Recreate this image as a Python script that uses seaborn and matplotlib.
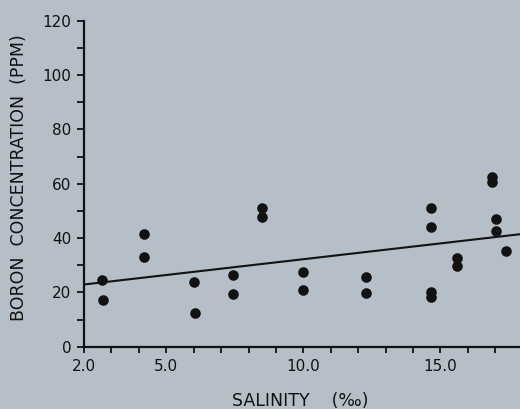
import matplotlib
matplotlib.use("Agg")
import matplotlib.pyplot as plt
from matplotlib.ticker import MultipleLocator, FixedLocator
import seaborn as sns
import pandas as pd

# ---- data ----
salinity = [2.65, 2.68, 4.19, 4.19, 6.01, 6.05, 7.45, 7.45, 8.5, 8.5,
            9.98, 9.98, 12.27, 12.27, 14.65, 14.65, 14.67, 14.67,
            15.62, 15.62, 16.88, 16.88, 17.01, 17.04, 17.4]
boron = [24.7, 17.2, 41.4, 33.1, 23.8, 12.5, 26.3, 19.4, 51.2, 47.8,
         27.4, 20.9, 25.6, 19.7, 51.0, 43.9, 20.1, 18.4,
         32.7, 29.6, 62.6, 60.7, 46.9, 42.7, 35.1]
fit_x = [2.0, 17.9]
fit_y = [22.9, 41.4]
x_tick_labels = ["2.0", "5.0", "10.0", "15.0"]
x_tick_values = [2.0, 5.0, 10.0, 15.0]
y_tick_values = [0, 20, 40, 60, 80, 100, 120]

BG = "#b6bec8"
INK = "#121212"

sns.set_theme(style="ticks")
plt.rcParams["font.family"] = ["DejaVu Sans"]

fig = plt.figure(figsize=(5.2, 4.09), dpi=100, facecolor=BG)
W, H = 520, 409
left, right, bottom, top = 84, 520, 346.7, 20.7
ax = fig.add_axes([left / W, (H - bottom) / H, (right - left) / W, (bottom - top) / H])
ax.set_facecolor(BG)

df = pd.DataFrame({"salinity": salinity, "boron": boron})
sns.scatterplot(data=df, x="salinity", y="boron", ax=ax, color=INK, s=58,
                edgecolor=INK, linewidth=0, zorder=3, legend=False)
fit = pd.DataFrame({"x": fit_x, "y": fit_y})
sns.lineplot(data=fit, x="x", y="y", ax=ax, color=INK, linewidth=1.5, zorder=2)

ax.set_xlim(2.0, 17.9)
ax.set_ylim(0, 120)

ax.xaxis.set_major_locator(FixedLocator(x_tick_values))
ax.set_xticklabels(x_tick_labels)
ax.xaxis.set_minor_locator(MultipleLocator(1.0))
ax.yaxis.set_major_locator(FixedLocator(y_tick_values))
ax.yaxis.set_minor_locator(MultipleLocator(10))

for s in ["top", "right"]:
    ax.spines[s].set_visible(False)
for s in ["left", "bottom"]:
    ax.spines[s].set_color(INK)
    ax.spines[s].set_linewidth(1.6)

ax.tick_params(axis="both", which="both", direction="out", colors=INK,
               width=1.3, labelsize=11, labelcolor=INK)
ax.tick_params(axis="y", which="both", length=5, pad=4)
ax.tick_params(axis="x", which="both", length=4, pad=5)

ax.set_xlabel("")
ax.set_ylabel("")
fig.text(300 / W, 1 - 401 / H, "SALINITY    (‰)", ha="center", va="center",
         fontsize=12.5, color=INK)
fig.text(19 / W, 1 - 178 / H, "BORON  CONCENTRATION  (PPM)", ha="center",
         va="center", rotation=90, fontsize=12.5, color=INK)

fig.savefig("out.png", dpi=100, facecolor=BG)
